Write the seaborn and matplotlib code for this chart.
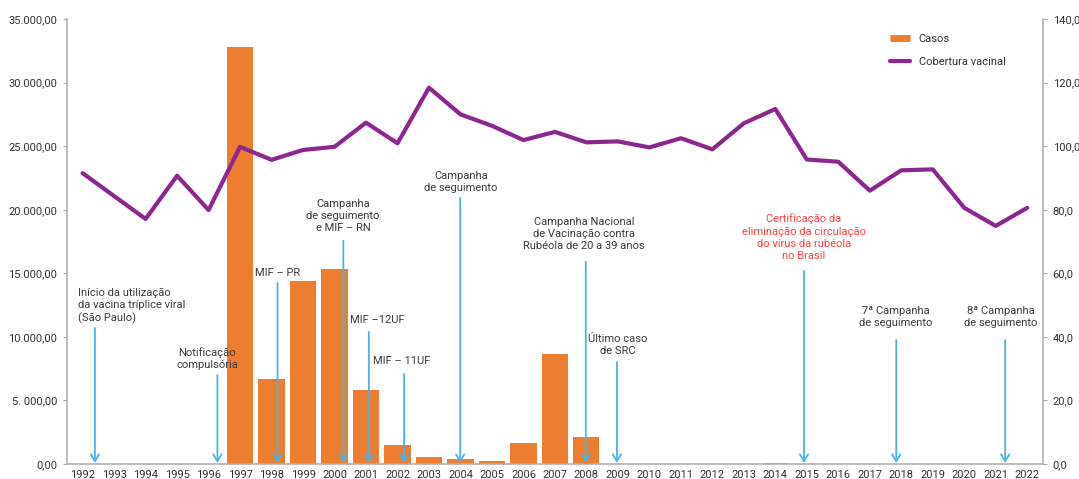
import numpy as np
import pandas as pd
import seaborn as sns
import matplotlib.pyplot as plt
from matplotlib.lines import Line2D

# Data
anos = [str(a) for a in range(1992, 2023)]
casos = [0, 0, 0, 0, 0, 32800, 6700, 14400, 15300, 5820, 1500, 550, 400, 240,
         1650, 8650, 2120, 0, 0, 0, 0, 0, 100, 0, 0, 0, 0, 0, 0, 0, 0]
cobertura = [91.5, 84.3, 77.1, 90.7, 79.9, 99.8, 95.7, 98.8, 99.8, 107.4, 100.9,
             118.4, 110.0, 106.4, 101.9, 104.5, 101.2, 101.5, 99.6, 102.5, 99.0,
             107.2, 111.7, 95.8, 95.1, 86.0, 92.4, 92.7, 80.6, 74.9, 80.6]

left_ticks = [0, 5000, 10000, 15000, 20000, 25000, 30000, 35000]
left_labels = ["0,00", "5. 000,00", "10.000,00", "15.000,00", "20.000,00",
               "25.000,00", "30.000,00", "35.000,00"]
right_ticks = [0, 20, 40, 60, 80, 100, 120, 140]
right_labels = ["0,0", "20,0", "40,0", "60,0", "80,0", "100,0", "120,0", "140,0"]

# annotations: text, text x, text y, arrow x, arrow top, colour, alignment
notas_texto = ["Início da utilização\nda vacina tríplice viral\n(São Paulo)",
               "Notificação\ncompulsória",
               "MIF – PR",
               "Campanha\nde seguimento\ne MIF – RN",
               "MIF –12UF",
               "MIF – 11UF",
               "Campanha\nde seguimento",
               "Campanha Nacional\nde Vacinação contra\nRubéola de 20 a 39 anos",
               "Último caso\nde SRC",
               "Certificação da\neliminação da circulação\ndo vírus da rubéola\nno Brasil",
               "7ª Campanha\nde seguimento",
               "8ª Campanha\nde seguimento"]
notas_tx = [-0.15, 3.96, 6.19, 8.27, 9.35, 10.14, 12.02, 15.93, 17.0, 22.9, 25.82, 29.16]
notas_ty = [12430, 8260, 15020, 19500, 11330, 8100, 22220, 18090, 9360, 17850, 11560, 11560]
notas_ax = [0.39, 4.28, 6.19, 8.28, 9.09, 10.21, 11.99, 15.98, 16.97, 22.91, 25.84, 29.30]
notas_ay = [10700, 7000, 14240, 17560, 10400, 7080, 20920, 15910, 8020, 15180, 9750, 9750]
notas_cor = ["#3a3a3a"] * 9 + ["#ff3f3f"] + ["#3a3a3a"] * 2
notas_ha = ["left"] + ["center"] * 11

sns.set_style("white")
plt.rcParams['font.family'] = ['Roboto', 'DejaVu Sans']

df = pd.DataFrame({"Ano": anos, "Casos": casos, "Cobertura": cobertura})

fig = plt.figure(figsize=(10.79, 4.79), dpi=100)
ax = fig.add_axes([0.062, 0.0313, 0.9046, 0.929])

sns.barplot(data=df, x="Ano", y="Casos", color="#ed7d31", saturation=1,
            width=0.83, linewidth=0, ax=ax)
ax.set_ylim(0, 35000)
ax.set_xlim(-0.5, 30.5)
ax.set_yticks(left_ticks)
ax.set_yticklabels(left_labels, fontsize=8, color="#333333")
ax.set_xlabel("")
ax.set_ylabel("")
ax.tick_params(axis="x", which="major", length=0, labelsize=8, labelcolor="#333333", pad=4)
ax.set_xticks(np.arange(-0.5, 31, 1), minor=True)
ax.tick_params(axis="x", which="minor", length=4, color="#aaaaaa", width=0.8)
ax.tick_params(axis="y", length=3, color="#aaaaaa", width=0.8, left=True, pad=4)

for s in ["top", "right"]:
    ax.spines[s].set_visible(False)
for s in ["left", "bottom"]:
    ax.spines[s].set_color("#b0b0b0")
    ax.spines[s].set_linewidth(1.2)

ax2 = ax.twinx()
sns.lineplot(x=np.arange(len(anos)), y=df["Cobertura"], color="#8c278f",
             linewidth=3, ax=ax2)
ax2.set_ylim(0, 140)
ax2.set_yticks(right_ticks)
ax2.set_yticklabels(right_labels, fontsize=8, color="#333333")
ax2.set_ylabel("")
ax2.tick_params(axis="y", length=3, color="#aaaaaa", width=0.8, right=True, pad=4)
for s in ["top", "left", "bottom"]:
    ax2.spines[s].set_visible(False)
ax2.spines["right"].set_color("#b0b0b0")
ax2.spines["right"].set_linewidth(1.2)

# annotations with arrows
for txt, tx, ty, axx, ay, cor, ha in zip(notas_texto, notas_tx, notas_ty, notas_ax,
                                         notas_ay, notas_cor, notas_ha):
    ax.text(tx, ty, txt, ha=ha, va="center", fontsize=8, color=cor,
            linespacing=1.25, zorder=6)
    ax.annotate("", xy=(axx, 80), xytext=(axx, ay),
                arrowprops=dict(arrowstyle="->,head_width=0.3,head_length=0.5",
                                color="#4ab4e6", lw=1.3, shrinkA=0, shrinkB=0),
                zorder=5)

handles = [Line2D([0], [0], color="#ed7d31", lw=5, solid_capstyle="butt"),
           Line2D([0], [0], color="#8c278f", lw=3, solid_capstyle="round")]
leg = ax2.legend(handles, ["Casos", "Cobertura vacinal"], loc="upper right",
                 bbox_to_anchor=(0.972, 0.988), frameon=False, fontsize=8,
                 handlelength=1.8, labelspacing=1.1)
for t in leg.get_texts():
    t.set_color("#333333")

fig.savefig("out.png", dpi=100)
